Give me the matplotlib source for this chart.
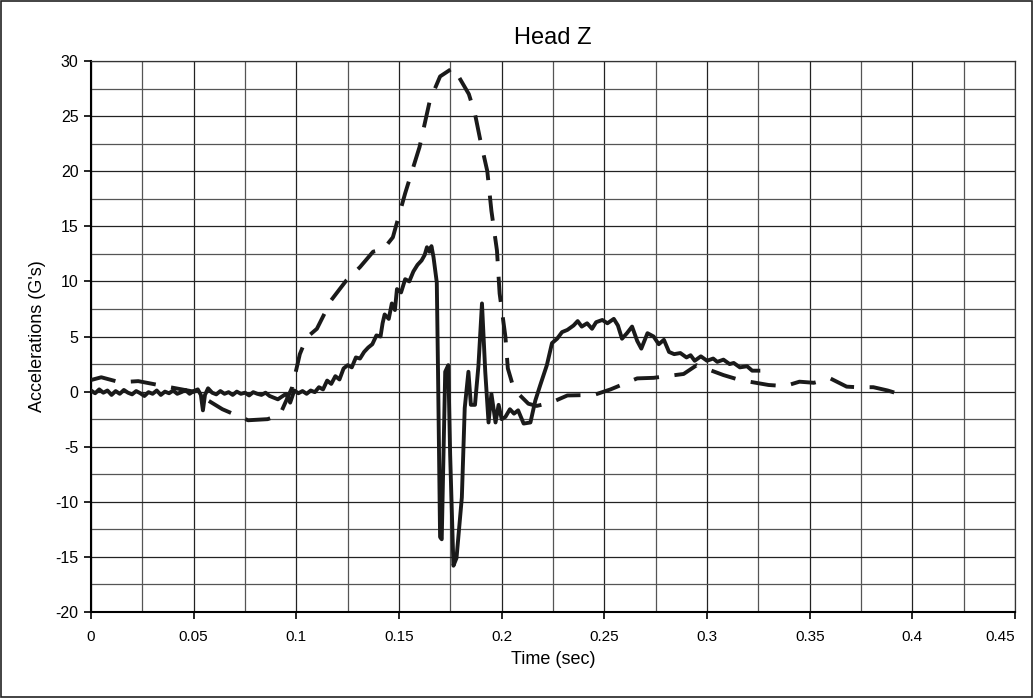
import numpy as np
import matplotlib
matplotlib.use("Agg")
import matplotlib.pyplot as plt
from matplotlib.ticker import MultipleLocator

plt.rcParams['font.family'] = ['Liberation Sans', 'DejaVu Sans']
plt.rcParams['axes.unicode_minus'] = False

# dashed trace
dash_t = [0.0, 0.005, 0.014, 0.023, 0.037, 0.050, 0.064, 0.0765, 0.086, 0.092, 0.098,
          0.1017, 0.105, 0.110, 0.117, 0.1244, 0.131, 0.1374, 0.1423, 0.147, 0.153,
          0.160, 0.165, 0.170, 0.1765, 0.184, 0.187, 0.1895, 0.193, 0.195, 0.1977,
          0.199, 0.2018, 0.203, 0.206, 0.213, 0.217, 0.224, 0.232, 0.245, 0.253,
          0.266, 0.274, 0.2886, 0.295, 0.308, 0.316, 0.330, 0.338, 0.345, 0.352,
          0.360, 0.368, 0.373, 0.381, 0.388, 0.395]
dash_g = [1.05, 1.3, 0.85, 0.95, 0.45, 0.0, -1.6, -2.6, -2.5, -2.1, 0.4,
          3.4, 4.9, 5.7, 8.3, 10.1, 11.3, 12.7, 12.9, 14.0, 18.0,
          22.2, 26.4, 28.6, 29.4, 27.0, 25.2, 22.9, 20.0, 16.4, 12.8,
          8.9, 5.0, 2.1, 0.2, -1.1, -1.3, -1.0, -0.35, -0.3, 0.2,
          1.2, 1.25, 1.6, 2.4, 1.5, 1.05, 0.6, 0.5, 0.9, 0.8,
          1.2, 0.45, 0.4, 0.4, 0.1, -0.3]

# solid trace (includes the visible jitter)
solid_t = [0.0, 0.002, 0.004, 0.006, 0.008, 0.010, 0.012, 0.014, 0.016, 0.018,
           0.020, 0.022, 0.024, 0.026, 0.028, 0.030, 0.032, 0.034, 0.036, 0.038,
           0.040, 0.042, 0.044, 0.046, 0.048, 0.050, 0.052, 0.0535, 0.0545, 0.0555,
           0.057, 0.059, 0.061, 0.063, 0.065, 0.067, 0.069, 0.071, 0.073, 0.075,
           0.077, 0.079, 0.081, 0.083, 0.085, 0.087, 0.089, 0.091, 0.093, 0.095,
           0.097, 0.099, 0.101, 0.103, 0.105, 0.107, 0.109, 0.111, 0.113, 0.115,
           0.117, 0.119, 0.121, 0.123, 0.125, 0.127, 0.129, 0.131, 0.133, 0.135,
           0.137, 0.139, 0.141, 0.142, 0.143, 0.145, 0.1465, 0.148, 0.149, 0.151,
           0.153, 0.155, 0.157, 0.159, 0.161, 0.1625, 0.1636, 0.1648, 0.1658, 0.1668,
           0.1684, 0.169, 0.170, 0.1708, 0.1725, 0.174, 0.1749, 0.1765, 0.178, 0.1806,
           0.182, 0.1838, 0.185, 0.187, 0.1887, 0.1904, 0.192, 0.1936, 0.195, 0.197,
           0.1985, 0.200, 0.2018, 0.204, 0.206, 0.208, 0.2107, 0.214, 0.2164, 0.2188,
           0.222, 0.2245, 0.227, 0.2294, 0.232, 0.235, 0.237, 0.239, 0.2416, 0.244,
           0.246, 0.249, 0.2515, 0.2546, 0.2566, 0.2586, 0.261, 0.2635, 0.266, 0.268,
           0.271, 0.274, 0.2765, 0.279, 0.2815, 0.284, 0.287, 0.290, 0.292, 0.294,
           0.297, 0.300, 0.303, 0.305, 0.308, 0.311, 0.313, 0.316, 0.3195, 0.322,
           0.325]
solid_g = [0.1, -0.15, 0.2, -0.1, 0.1, -0.3, 0.05, -0.2, 0.15, -0.1,
           -0.25, 0.05, -0.15, -0.4, -0.05, -0.2, 0.1, -0.3, 0.0, -0.15,
           0.1, -0.2, -0.05, 0.15, -0.2, 0.05, 0.2, -0.3, -1.7, -0.3,
           0.3, -0.1, -0.25, 0.05, -0.2, -0.05, -0.3, 0.0, -0.2, -0.1,
           -0.35, -0.05, -0.2, -0.3, -0.1, -0.4, -0.55, -0.7, -0.45, -0.2,
           -1.0, 0.1, -0.15, 0.05, -0.2, 0.1, -0.05, 0.4, 0.2, 1.0,
           0.7, 1.4, 1.1, 2.1, 2.4, 2.2, 3.1, 3.0, 3.6, 4.0,
           4.3, 5.1, 5.0, 6.2, 7.0, 6.6, 8.0, 7.4, 9.3, 9.0,
           10.2, 10.0, 10.9, 11.5, 11.9, 12.4, 13.1, 12.7, 13.2, 12.2,
           9.9, 1.8, -13.2, -13.4, 1.8, 2.4, -5.7, -15.8, -15.1, -9.6,
           -1.5, 1.8, -1.2, -1.2, 2.4, 8.0, 1.8, -2.8, -0.2, -2.8,
           -1.2, -2.5, -2.3, -1.6, -2.0, -1.7, -2.9, -2.8, -0.8, 0.6,
           2.4, 4.4, 4.8, 5.4, 5.6, 6.0, 6.4, 5.9, 6.2, 5.7,
           6.3, 6.5, 6.2, 6.6, 6.0, 4.8, 5.3, 5.9, 4.6, 3.9,
           5.3, 5.0, 4.3, 4.7, 3.6, 3.4, 3.5, 3.1, 3.3, 2.8,
           3.2, 2.8, 3.0, 2.7, 2.9, 2.5, 2.6, 2.2, 2.3, 1.9,
           1.9]

x_ticks = [0, 0.05, 0.1, 0.15, 0.2, 0.25, 0.3, 0.35, 0.4, 0.45]
x_labels = ['0', '0.05', '0.1', '0.15', '0.2', '0.25', '0.3', '0.35', '0.4', '0.45']

fig = plt.figure(figsize=(10.33, 6.98), dpi=100)
ax = fig.add_axes([0.0881, 0.1232, 0.8945, 0.7894])

ax.plot(dash_t, dash_g, color='#1a1a1a', lw=2.8, dashes=(6.5, 4), zorder=3)
ax.plot(solid_t, solid_g, color='#1a1a1a', lw=2.8, zorder=4)

ax.set_xlim(0, 0.45)
ax.set_ylim(-20, 30)
ax.set_xticks(x_ticks)
ax.set_xticklabels(x_labels)
ax.set_yticks(range(-20, 31, 5))
ax.xaxis.set_minor_locator(MultipleLocator(0.025))
ax.yaxis.set_minor_locator(MultipleLocator(2.5))
ax.grid(which='major', color='#222222', lw=0.9)
ax.grid(which='minor', color='#555555', lw=0.9)
ax.tick_params(which='major', direction='out', length=5, width=1.2, labelsize=11.5, pad=8)
ax.tick_params(which='minor', length=0)
ax.tick_params(axis='y', pad=4)
for lab in ax.get_xticklabels():
    lab.set_fontsize(11)
# last label sits at the right edge; nudge it inside like the original
ax.get_xticklabels()[-1].set_horizontalalignment('right')
for side in ['left', 'bottom']:
    ax.spines[side].set_linewidth(1.5)
for side in ['top', 'right']:
    ax.spines[side].set_linewidth(0.9)
    ax.spines[side].set_color('#333333')

ax.set_title('Head Z', fontsize=17, pad=12)
ax.set_xlabel('Time (sec)', fontsize=13, labelpad=5)
ax.set_ylabel("Accelerations (G's)", fontsize=13, labelpad=7)

# border around whole figure
fig.patches.append(plt.Rectangle((0.001, 0.001), 0.998, 0.998, transform=fig.transFigure,
                                 fill=False, edgecolor='#222222', lw=1.2))

fig.savefig('out.png', dpi=100)
